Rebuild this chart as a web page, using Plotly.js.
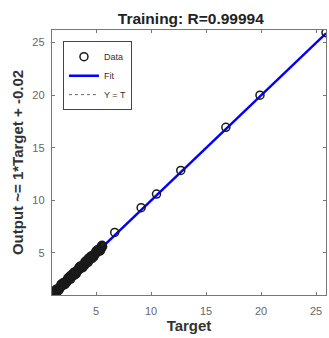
<!DOCTYPE html>
<html>
<head>
<meta charset="utf-8">
<script src="https://cdn.plot.ly/plotly-3.0.1.min.js"></script>
<style>html,body{margin:0;padding:0;background:#fff;}#chart{width:329px;height:338px;}</style>
</head>
<body>
<div id="chart"></div>
<script>
// Targets and network outputs (training set)
var targets = [1.00, 1.12, 1.25, 1.31, 1.44, 1.52, 1.60, 1.71, 1.78, 1.86, 1.95, 2.03, 2.10, 2.18, 2.27, 2.33,
  2.41, 2.50, 2.56, 2.63, 2.72, 2.80, 2.87, 2.95, 3.02, 3.11, 3.18, 3.26, 3.33, 3.40, 3.49, 3.57, 3.64, 3.72,
  3.80, 3.88, 3.95, 4.03, 4.11, 4.19, 4.26, 4.34, 4.42, 4.50, 4.57, 4.66, 4.73, 4.81, 4.89, 4.96, 5.05, 5.13,
  5.21, 5.29, 5.37, 5.45, 5.52, 5.60,
  1.38, 1.65, 1.90, 2.15, 2.45, 2.70, 2.98, 3.22, 3.52, 3.76, 4.00, 4.28, 4.55, 4.80, 5.08, 5.35, 5.55,
  1.48, 1.82, 2.22, 2.60, 3.05, 3.45, 3.85, 4.22, 4.62, 5.00, 5.42,
  1.20, 1.58, 2.00, 2.38, 2.78, 3.15, 3.60, 3.98, 4.38, 4.70, 5.15, 5.48,
  6.70, 9.10, 10.50, 12.70, 16.80, 19.90, 25.90];
var outputs = [0.99, 1.18, 1.21, 1.38, 1.40, 1.57, 1.55, 1.77, 1.72, 1.92, 1.90, 2.09, 2.05, 2.24, 2.21, 2.39,
  2.36, 2.55, 2.51, 2.69, 2.67, 2.86, 2.82, 3.00, 2.97, 3.17, 3.13, 3.31, 3.28, 3.46, 3.44, 3.62, 3.59, 3.78,
  3.75, 3.93, 3.90, 4.09, 4.06, 4.24, 4.21, 4.40, 4.37, 4.55, 4.52, 4.71, 4.68, 4.86, 4.84, 5.02, 5.00, 5.18,
  5.16, 5.34, 5.32, 5.50, 5.48, 5.62,
  1.55, 1.48, 2.08, 1.98, 2.62, 2.52, 3.16, 3.04, 3.70, 3.58, 4.18, 4.10, 4.72, 4.62, 5.26, 5.18, 5.72,
  1.30, 2.00, 2.05, 2.78, 2.88, 3.62, 3.68, 4.40, 4.45, 5.17, 5.25,
  1.34, 1.45, 2.16, 2.25, 2.94, 3.00, 3.76, 3.84, 4.55, 4.58, 5.30, 5.64,
  6.95, 9.30, 10.60, 12.85, 16.95, 20.00, 25.95];
var fitX = [1.00, 25.90];
var fitY = [0.98, 25.88];
var identX = [1.00, 25.90];
var identY = [1.00, 25.90];
var xRange = [1.00, 25.90];
var yRange = [1.00, 26.20];
var xTicks = [5, 10, 15, 20, 25];
var yTicks = [5, 10, 15, 20, 25];

var traces = [
  {x: identX, y: identY, mode: 'lines', name: 'Y = T', legendrank: 3,
   line: {color: '#666', width: 1, dash: 'dot'}},
  {x: fitX, y: fitY, mode: 'lines', name: 'Fit', legendrank: 2,
   line: {color: '#0000ff', width: 2.5}},
  {x: targets, y: outputs, mode: 'markers', name: 'Data', legendrank: 1,
   marker: {symbol: 'circle-open', size: 8, color: '#1a1a1a', line: {width: 1.5, color: '#1a1a1a'}}}
];

var FONT = 'Liberation Sans, Arial, sans-serif';
var axisCommon = {
  showgrid: false, zeroline: false, showline: true, linecolor: '#777', linewidth: 1.2,
  mirror: 'ticks', ticks: 'inside', ticklen: 3, tickcolor: '#777',
  tickfont: {family: FONT, size: 11, color: '#666'}
};

var layout = {
  width: 329, height: 338,
  margin: {l: 52, r: 3, t: 30, b: 43},
  paper_bgcolor: '#fff', plot_bgcolor: '#fff',
  showlegend: true,
  title: {text: 'Training: R=0.99994', x: 0.58, xanchor: 'center', y: 0.945, yanchor: 'middle',
          font: {family: FONT, size: 15.5, color: '#222', weight: 'bold'}},
  xaxis: Object.assign({}, axisCommon, {range: xRange, tickvals: xTicks, ticklabelstandoff: 6,
    title: {text: 'Target', standoff: 4, font: {family: FONT, size: 15, color: '#333', weight: 'bold'}}}),
  yaxis: Object.assign({}, axisCommon, {range: yRange, tickvals: yTicks, ticklabelstandoff: 4,
    title: {text: 'Output ~= 1*Target + -0.02', standoff: 5, font: {family: FONT, size: 15, color: '#333', weight: 'bold'}}}),
  legend: {x: 0.04, y: 0.958, xanchor: 'left', yanchor: 'top', bgcolor: '#fff',
    bordercolor: '#444', borderwidth: 1, tracegroupgap: 0, itemwidth: 30,
    font: {family: FONT, size: 9, color: '#333'}}
};

Plotly.newPlot('chart', traces, layout, {displayModeBar: false, staticPlot: true});
</script>
</body>
</html>
